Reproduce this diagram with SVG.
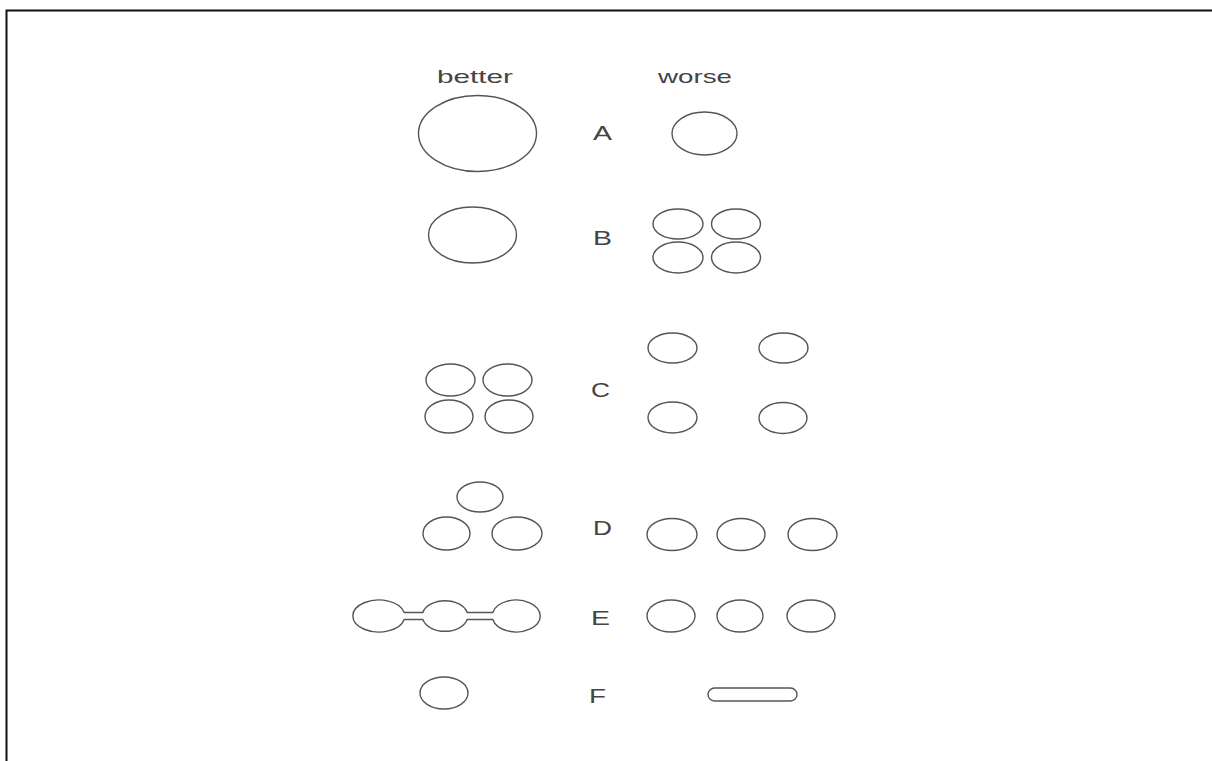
<svg xmlns="http://www.w3.org/2000/svg" width="1212" height="761" viewBox="0 0 1212 761">
<style>
.s{fill:none;stroke:#555;stroke-width:1.4}
.t{font-family:"Liberation Sans",Arial,sans-serif;fill:#444}
.h{font-size:19px}
.l{font-size:21px}
</style>
<rect x="0" y="0" width="1212" height="761" fill="#fff"/>
<path d="M6.5 761 V10.5 H1212" fill="none" stroke="#111" stroke-width="2"/>
<g id="headers">
<text class="t h" x="437" y="83" textLength="76" lengthAdjust="spacingAndGlyphs">better</text>
<text class="t h" x="658" y="83" textLength="74" lengthAdjust="spacingAndGlyphs">worse</text>
</g>
<g id="rowA">
<ellipse class="s" cx="477.5" cy="133.5" rx="59" ry="38"/>
<text class="t l" x="593" y="140" textLength="19" lengthAdjust="spacingAndGlyphs">A</text>
<ellipse class="s" cx="704.5" cy="133.5" rx="32.5" ry="21.5"/>
</g>
<g id="rowB">
<ellipse class="s" cx="472.5" cy="235" rx="44" ry="28"/>
<text class="t l" x="593" y="245" textLength="19" lengthAdjust="spacingAndGlyphs">B</text>
<ellipse class="s" cx="678" cy="224" rx="25" ry="15"/>
<ellipse class="s" cx="736" cy="224" rx="24.5" ry="15"/>
<ellipse class="s" cx="678" cy="257.5" rx="25" ry="15.5"/>
<ellipse class="s" cx="736" cy="257.5" rx="24.5" ry="15.5"/>
</g>
<g id="rowC">
<ellipse class="s" cx="450.5" cy="380" rx="24.5" ry="16"/>
<ellipse class="s" cx="507.5" cy="380" rx="24.5" ry="16"/>
<ellipse class="s" cx="449" cy="416.5" rx="24" ry="16.5"/>
<ellipse class="s" cx="509" cy="416.5" rx="24" ry="16.5"/>
<text class="t l" x="591" y="397" textLength="19" lengthAdjust="spacingAndGlyphs">C</text>
<ellipse class="s" cx="672.5" cy="348" rx="24.5" ry="15"/>
<ellipse class="s" cx="783.5" cy="348" rx="24.5" ry="15"/>
<ellipse class="s" cx="672.5" cy="417.5" rx="24.5" ry="15.5"/>
<ellipse class="s" cx="783" cy="418" rx="24" ry="15.5"/>
</g>
<g id="rowD">
<ellipse class="s" cx="480" cy="497" rx="23" ry="15"/>
<ellipse class="s" cx="446.5" cy="533.5" rx="23.5" ry="16.5"/>
<ellipse class="s" cx="517" cy="533.5" rx="25" ry="16.5"/>
<text class="t l" x="593" y="535" textLength="19" lengthAdjust="spacingAndGlyphs">D</text>
<ellipse class="s" cx="672" cy="534.5" rx="25" ry="16"/>
<ellipse class="s" cx="741" cy="534.5" rx="24" ry="16"/>
<ellipse class="s" cx="812.5" cy="534.5" rx="24.5" ry="16"/>
</g>
<g id="rowE">
<path class="s" d="M404.2 612.5 A26 16 0 1 0 404.2 619.5 L422.8 619.5 A23 16 0 0 0 467.2 619.5 L492.8 619.5 A24 16 0 1 0 492.8 612.5 L467.2 612.5 A23 16 0 0 0 422.8 612.5 Z"/>
<text class="t l" x="591" y="625" textLength="19" lengthAdjust="spacingAndGlyphs">E</text>
<ellipse class="s" cx="671" cy="616" rx="24" ry="16"/>
<ellipse class="s" cx="740" cy="616" rx="23" ry="16"/>
<ellipse class="s" cx="811" cy="616" rx="24" ry="16"/>
</g>
<g id="rowF">
<ellipse class="s" cx="444" cy="693" rx="24" ry="16"/>
<text class="t l" x="589" y="703" textLength="17" lengthAdjust="spacingAndGlyphs">F</text>
<rect class="s" x="708" y="688" width="89" height="13" rx="6.5"/>
</g>
<g id="connectors"/>
</svg>
